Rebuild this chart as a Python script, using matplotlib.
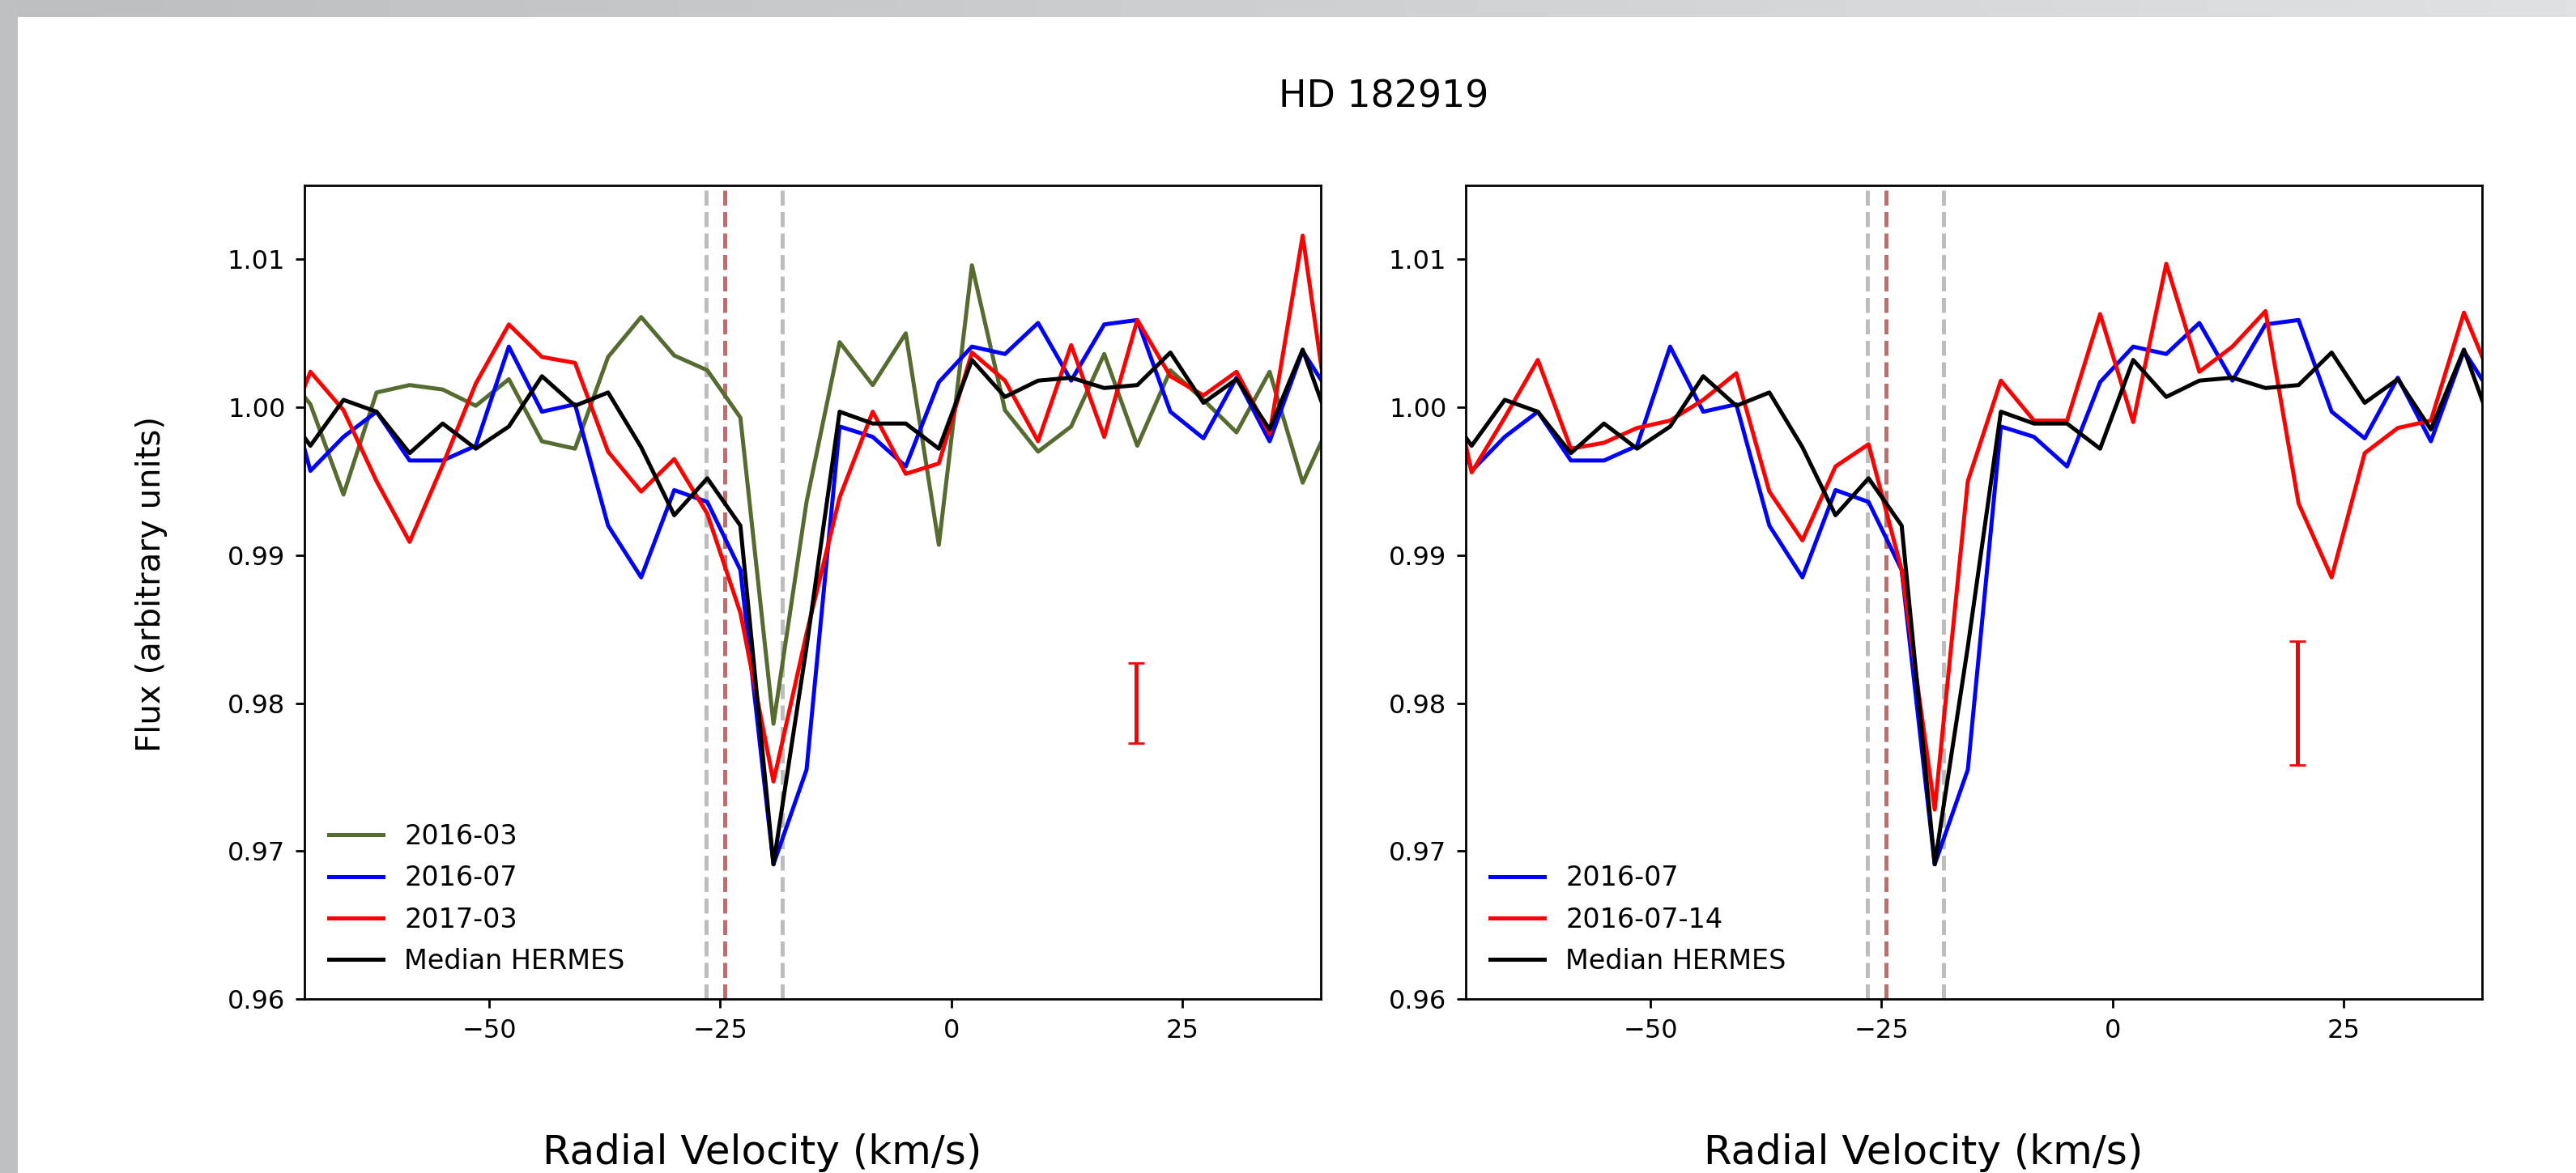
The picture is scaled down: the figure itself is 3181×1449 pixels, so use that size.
import numpy as np
import matplotlib
matplotlib.use("Agg")
import matplotlib.pyplot as plt
from matplotlib.patches import Rectangle
from matplotlib.ticker import FormatStrFormatter

# radial velocity grid (km/s)
velocity = [-72.94, -69.36, -65.78, -62.20, -58.62, -55.04, -51.46, -47.88,
            -44.30, -40.72, -37.14, -33.56, -29.98, -26.40, -22.82, -19.24,
            -15.66, -12.08, -8.50, -4.92, -1.34, 2.24, 5.82, 9.40, 12.98,
            16.56, 20.14, 23.72, 27.30, 30.88, 34.46, 38.04, 41.62]

flux_2016_03 = [1.0030, 1.0002, 0.9941, 1.0010, 1.0015, 1.0012, 1.0001, 1.0019,
                0.9977, 0.9972, 1.0034, 1.0061, 1.0035, 1.0025, 0.9993, 0.9786,
                0.9936, 1.0044, 1.0015, 1.0050, 0.9907, 1.0096, 0.9998, 0.9970,
                0.9987, 1.0036, 0.9974, 1.0025, 1.0005, 0.9983, 1.0024, 0.9949,
                0.9998]

flux_2016_07 = [1.0040, 0.9957, 0.9980, 0.9997, 0.9964, 0.9964, 0.9974, 1.0041,
                0.9997, 1.0002, 0.9920, 0.9885, 0.9944, 0.9936, 0.9890, 0.9691,
                0.9755, 0.9987, 0.9980, 0.9960, 1.0017, 1.0041, 1.0036, 1.0057,
                1.0018, 1.0056, 1.0059, 0.9997, 0.9979, 1.0020, 0.9977, 1.0038,
                1.0003]

flux_2017_03 = [0.9967, 1.0024, 0.9998, 0.9950, 0.9909, 0.9961, 1.0016, 1.0056,
                1.0034, 1.0030, 0.9970, 0.9943, 0.9965, 0.9928, 0.9861, 0.9747,
                0.9847, 0.9939, 0.9997, 0.9955, 0.9962, 1.0037, 1.0018, 0.9977,
                1.0042, 0.9980, 1.0059, 1.0021, 1.0008, 1.0024, 0.9982, 1.0116,
                0.9959]

flux_2016_07_14 = [1.0060, 0.9956, 0.9993, 1.0032, 0.9972, 0.9976, 0.9986, 0.9991,
                   1.0005, 1.0023, 0.9943, 0.9910, 0.9960, 0.9975, 0.9890, 0.9728,
                   0.9950, 1.0018, 0.9991, 0.9991, 1.0063, 0.9990, 1.0097, 1.0024,
                   1.0041, 1.0065, 0.9935, 0.9885, 0.9969, 0.9986, 0.9991, 1.0064,
                   1.0010]

flux_median = [1.0005, 0.9974, 1.0005, 0.9997, 0.9969, 0.9989, 0.9972, 0.9987,
               1.0021, 1.0001, 1.0010, 0.9973, 0.9927, 0.9952, 0.9920, 0.9691,
               0.9838, 0.9997, 0.9989, 0.9989, 0.9972, 1.0032, 1.0007, 1.0018,
               1.0020, 1.0013, 1.0015, 1.0037, 1.0003, 1.0019, 0.9985, 1.0039,
               0.9977]

# reference velocities (dashed lines)
grey_lines = [-26.5, -18.3]
red_line = -24.5

# typical error bars
err_x = 20
err_y = 0.980
err_left = 0.0027
err_right = 0.0042

W, H = 3181, 1449
fig = plt.figure(figsize=(W / 200, H / 200), dpi=200)
fig.patch.set_facecolor('#bfc0c2')

# white slide area with a grey gradient band on top
fig.patches.append(Rectangle((22 / W, 0), 1, 1 - 21 / H, transform=fig.transFigure,
                             facecolor='white', edgecolor='none', zorder=-10))
band = fig.add_axes([22 / W, 1 - 21 / H, 1 - 22 / W, 21 / H])
grad = np.linspace(0, 1, 256)[None, :]
band.imshow(grad, aspect='auto', cmap=matplotlib.colors.LinearSegmentedColormap.from_list(
    'g', ['#bdbec0', '#e0e1e3']))
band.axis('off')

ax1 = fig.add_axes([376 / W, 1 - 1234 / H, 1255 / W, 1005 / H])
ax2 = fig.add_axes([1810 / W, 1 - 1234 / H, 1255 / W, 1005 / H])

lw = 1.8
for ax in (ax1, ax2):
    for v in grey_lines:
        ax.axvline(v, color='#bdbdbd', ls='--', lw=lw, zorder=1)
    ax.axvline(red_line, color='#c46b6b', ls='--', lw=lw, zorder=1)

ax1.plot(velocity, flux_2016_03, color='darkolivegreen', lw=lw, label='2016-03')
ax1.plot(velocity, flux_2016_07, color='blue', lw=lw, label='2016-07')
ax1.plot(velocity, flux_2017_03, color='red', lw=lw, label='2017-03')
ax1.plot(velocity, flux_median, color='black', lw=lw, label='Median HERMES')
ax1.errorbar([err_x], [err_y], yerr=[err_left], color='red', lw=lw, capsize=3.5)

ax2.plot(velocity, flux_2016_07, color='blue', lw=lw, label='2016-07')
ax2.plot(velocity, flux_2016_07_14, color='red', lw=lw, label='2016-07-14')
ax2.plot(velocity, flux_median, color='black', lw=lw, label='Median HERMES')
ax2.errorbar([err_x], [err_y], yerr=[err_right], color='red', lw=lw, capsize=3.5)

for ax in (ax1, ax2):
    ax.set_xlim(-70, 40)
    ax.set_ylim(0.96, 1.015)
    ax.set_xticks([-50, -25, 0, 25])
    ax.set_yticks([0.96, 0.97, 0.98, 0.99, 1.00, 1.01])
    ax.yaxis.set_major_formatter(FormatStrFormatter('%.2f'))
    ax.tick_params(labelsize=11.5, length=4, width=1, pad=4.5)
    for s in ax.spines.values():
        s.set_linewidth(1.0)
    ax.set_xlabel('Radial Velocity (km/s)', fontsize=18)
    ax.xaxis.set_label_coords(0.45, -0.165)
    ax.legend(loc='lower left', frameon=False, fontsize=12, labelspacing=0.55)

ax1.set_ylabel('Flux (arbitrary units)', fontsize=14.5)
ax1.yaxis.set_label_coords(-0.135, 0.51)

fig.text(1709 / W, 1 - 120 / H, 'HD 182919', fontsize=16.5, ha='center', va='center')

fig.savefig('out.png', dpi=200)
